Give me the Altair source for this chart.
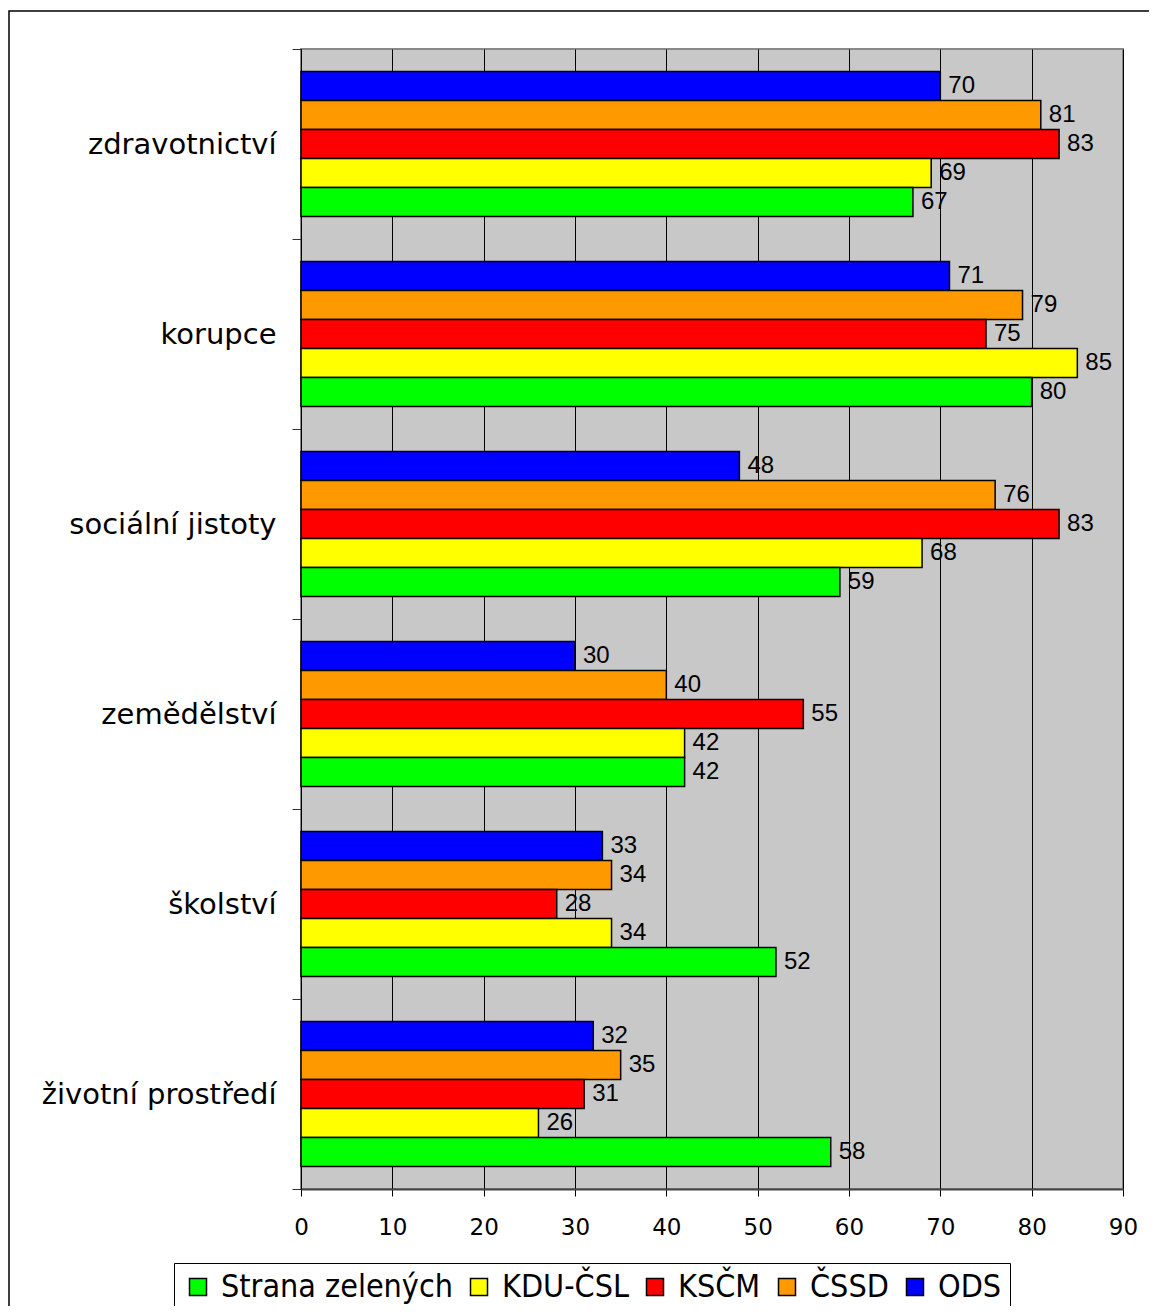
import altair as alt
import pandas as pd

categories = ["zdravotnictví", "korupce", "sociální jistoty", "zemědělství", "školství", "životní prostředí"]
parties = ["Strana zelených", "KDU-ČSL", "KSČM", "ČSSD", "ODS"]
colors = ["#00FF00", "#FFFF00", "#FF0000", "#FF9900", "#0000FF"]

ods = [70, 71, 48, 30, 33, 32]
cssd = [81, 79, 76, 40, 34, 35]
kscm = [83, 75, 83, 55, 28, 31]
kdu = [69, 85, 68, 42, 34, 26]
sz = [67, 80, 59, 42, 52, 58]

series = {"ODS": ods, "ČSSD": cssd, "KSČM": kscm, "KDU-ČSL": kdu, "Strana zelených": sz}
rows = []
for p, vals in series.items():
    for c, v in zip(categories, vals):
        rows.append({"kategorie": c, "strana": p, "hodnota": v})
df = pd.DataFrame(rows)

offset_order = ["ODS", "ČSSD", "KSČM", "KDU-ČSL", "Strana zelených"]

y_enc = alt.Y(
    "kategorie:N",
    sort=categories,
    scale=alt.Scale(paddingInner=0, paddingOuter=0),
    axis=alt.Axis(
        title=None,
        labelFont="DejaVu Sans",
        labelFontSize=29,
        labelColor="black",
        labelPadding=16,
        labelLimit=400,
        tickBand="extent",
        tickSize=9,
        tickColor="#333333",
        domainColor="black",
        domainWidth=1,
        grid=False,
    ),
)
x_enc = alt.X(
    "hodnota:Q",
    scale=alt.Scale(domain=[0, 90], nice=False),
    axis=alt.Axis(
        title=None,
        values=list(range(0, 91, 10)),
        labelFont="DejaVu Sans",
        labelFontSize=23,
        labelColor="black",
        labelPadding=20,
        labelFlush=False,
        tickSize=7,
        tickColor="black",
        domainColor="#444444",
        domainWidth=2,
        grid=True,
        gridColor="black",
        gridWidth=1,
    ),
)
yoff = alt.YOffset("strana:N", sort=offset_order, scale=alt.Scale(paddingInner=0, paddingOuter=0.776))

bars = alt.Chart(df).mark_bar(stroke="black", strokeWidth=1.5, opacity=1).encode(
    x=x_enc,
    y=y_enc,
    yOffset=yoff,
    color=alt.Color(
        "strana:N",
        scale=alt.Scale(domain=parties, range=colors),
        legend=alt.Legend(
            title=None,
            orient="none",
            legendX=-127,
            legendY=1214,
            direction="horizontal",
            columns=5,
            strokeColor="black",
            fillColor="white",
            padding=8,
            symbolType="square",
            symbolSize=289,
            symbolStrokeColor="black",
            symbolStrokeWidth=1.5,
            symbolOpacity=1,
            labelFont="DejaVu Sans Condensed, DejaVu Sans",
            labelFontSize=32,
            labelColor="black",
            labelOffset=7,
            columnPadding=10,
            labelLimit=400,
        ),
    ),
)

labels = alt.Chart(df).mark_text(
    align="left", baseline="middle", dx=8, font="Liberation Sans", fontSize=24, color="black"
).encode(
    x=alt.X("hodnota:Q"),
    y=alt.Y("kategorie:N", sort=categories),
    yOffset=yoff,
    text=alt.Text("hodnota:Q"),
)

frame = alt.Chart(pd.DataFrame({"a": [0]})).mark_rect(
    fill=None, stroke="black", strokeWidth=1.5, clip=False
).encode(
    x=alt.value(-292), x2=alt.value(870), y=alt.value(-38), y2=alt.value(1290)
)

chart = alt.layer(frame, bars, labels).properties(
    width=822,
    height=1140,
    background="white",
    autosize=alt.AutoSizeParams(type="none"),
    padding={"left": 293, "top": 41, "right": 26, "bottom": 117},
).configure_view(
    fill="#C8C8C8", stroke="#888888", strokeWidth=2
)

chart.save("out.html", embed_options={"renderer": "svg", "actions": False})
